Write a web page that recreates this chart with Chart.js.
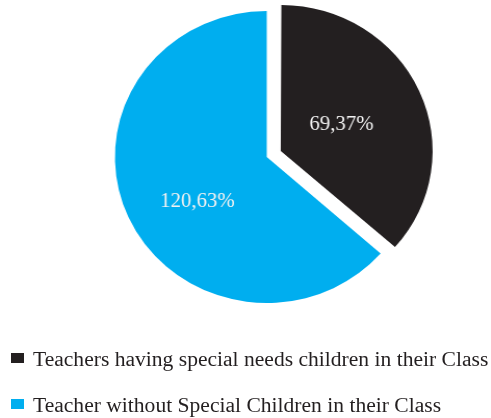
<!DOCTYPE html>
<html>
<head>
<meta charset="utf-8">
<script src="https://cdn.jsdelivr.net/npm/chart.js@4/dist/chart.umd.min.js"></script>
<style>
  html, body { margin: 0; padding: 0; background: #ffffff; }
  #wrap { position: relative; width: 491px; height: 418px; overflow: hidden; }
  #pie { position: absolute; left: 0; top: 0; transform: scaleX(1.04); transform-origin: 0 0; }
  .legend-row {
    position: absolute; left: 11px; height: 20px; line-height: 20px; width: 480px;
    font-family: "Liberation Serif", "Times New Roman", serif; font-size: 20px;
    color: #231f20; white-space: nowrap;
  }
  .legend-box { position: absolute; left: 0; width: 13px; height: 10px; }
  .legend-text { position: absolute; left: 22px; top: 0; transform: scaleX(1.078); transform-origin: 0 0; }
</style>
</head>
<body>
<div id="wrap">
  <canvas id="pie" width="491" height="418"></canvas>
  <div id="legend"></div>
</div>
<script>
// Survey: teachers with / without special-needs children in their class
const categories = [
  'Teachers having special needs children in their Class',
  'Teacher without Special Children in their Class'
];
const counts = [69, 120];
const percents = [37, 63];
const sliceLabels = ['69,37%', '120,63%'];
const colors = ['#231f20', '#00aeef'];

// Keep an exploded slice at the same radius as the others
// (the arc element otherwise grows by part of its offset).
const keepRadiusPlugin = {
  id: 'keepRadius',
  afterDatasetUpdate(chart, args) {
    args.meta.data.forEach(arc => {
      const shift = (arc.options.offset || 0) / 4;
      if (!shift) return;
      const fix = 1 - Math.sin(Math.min(Math.PI, arc.circumference || 0));
      arc.outerRadius -= shift * fix;
    });
  }
};

// Draws each slice's "count,percent%" label inside the slice
const sliceLabelPlugin = {
  id: 'sliceLabels',
  afterDatasetsDraw(chart, args, opts) {
    const meta = chart.getDatasetMeta(0);
    const ctx = chart.ctx;
    ctx.save();
    ctx.font = opts.font;
    ctx.fillStyle = opts.color;
    ctx.textAlign = 'center';
    ctx.textBaseline = 'middle';
    meta.data.forEach((arc, i) => {
      const p = arc.getProps(['x', 'y', 'startAngle', 'endAngle', 'outerRadius'], true);
      const half = (p.startAngle + p.endAngle) / 2;
      const mid = half + opts.angleShift[i];
      const shift = (arc.options.offset || 0) / 4;
      const r = p.outerRadius * opts.radial[i];
      const x = p.x + Math.cos(half) * shift + Math.cos(mid) * r;
      const y = p.y + Math.sin(half) * shift + Math.sin(mid) * r;
      ctx.fillText(sliceLabels[i] ?? `${counts[i]},${percents[i]}%`, x, y);
    });
    ctx.restore();
  }
};

const chart = new Chart(document.getElementById('pie'), {
  type: 'pie',
  data: {
    labels: categories,
    datasets: [{
      data: counts,
      backgroundColor: colors,
      borderWidth: 0,
      offset: [59, 0]
    }]
  },
  options: {
    responsive: false,
    animation: false,
    radius: 146,
    layout: { padding: { left: 22, right: 0, top: 0, bottom: 104 } },
    plugins: {
      legend: { display: false },
      tooltip: { enabled: false },
      sliceLabels: {
        font: '20px "Liberation Serif", "Times New Roman", serif',
        color: '#f2f2f2',
        radial: [0.45, 0.55],
        angleShift: [0, -0.17]
      }
    }
  },
  plugins: [keepRadiusPlugin, sliceLabelPlugin]
});

// Legend rows built from the chart's own labels and colours
const legend = document.getElementById('legend');
const rowTops = [349, 395];
chart.data.labels.forEach((label, i) => {
  const row = document.createElement('div');
  row.className = 'legend-row';
  row.style.top = rowTops[i] + 'px';
  const box = document.createElement('span');
  box.className = 'legend-box';
  box.style.background = chart.data.datasets[0].backgroundColor[i];
  box.style.top = '4px';
  const text = document.createElement('span');
  text.className = 'legend-text';
  text.textContent = label;
  row.appendChild(box);
  row.appendChild(text);
  legend.appendChild(row);
});
</script>
</body>
</html>
